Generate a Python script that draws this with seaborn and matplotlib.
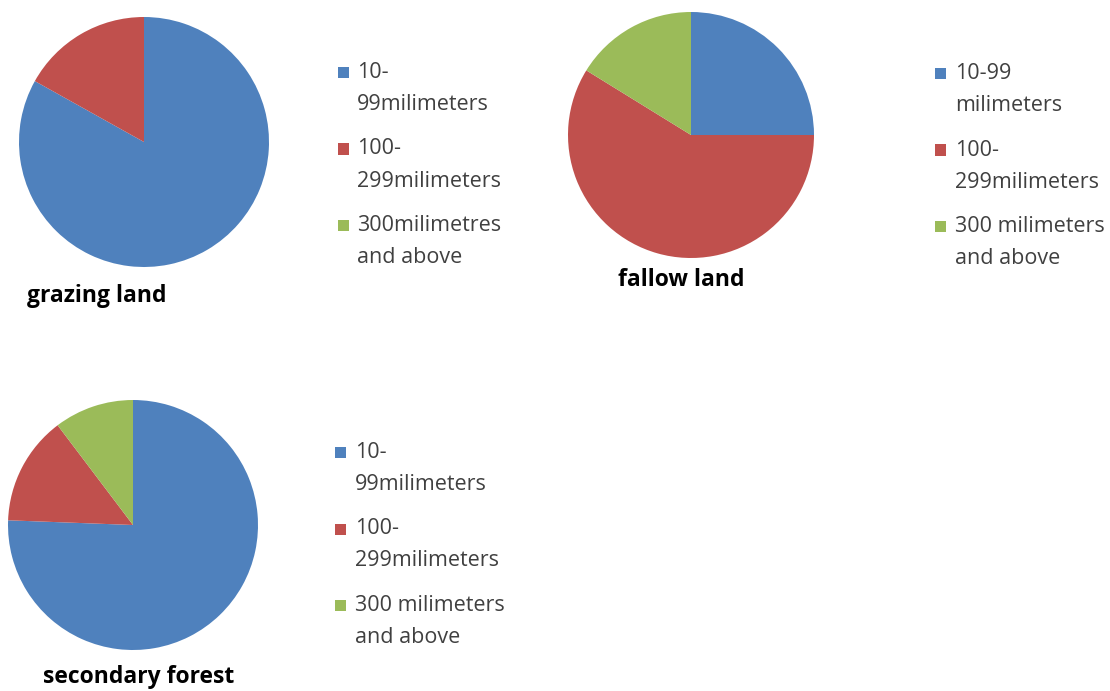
import matplotlib
matplotlib.use("Agg")
import matplotlib.pyplot as plt
import seaborn as sns
from matplotlib.patches import Rectangle

sns.set_theme(style="white")
plt.rcParams['font.family'] = ['Open Sans', 'DejaVu Sans']

# ---- data ----
titles = ["grazing land", "fallow land", "secondary forest"]
grazing_values = [83.1, 16.9, 0.0]
fallow_values = [25.0, 58.8, 16.2]
forest_values = [75.6, 14.1, 10.3]
grazing_labels = ["10-\n99milimeters", "100-\n299milimeters", "300milimetres\nand above"]
fallow_labels = ["10-99\nmilimeters", "100-\n299milimeters", "300 milimeters\nand above"]
forest_labels = ["10-\n99milimeters", "100-\n299milimeters", "300 milimeters\nand above"]
colors = ["#4F81BD", "#C0504D", "#9BBB59"]

W, H = 1110, 691
fig = plt.figure(figsize=(W / 100, H / 100), dpi=100)
fig.patch.set_facecolor("white")

def fx(x):
    return x / W

def fy(y):
    return 1 - y / H

# layout in pixel space: (pie centre x, centre y, radius), title (x, y), legend (square x, text x, first baseline)
layouts = [
    dict(c=(144, 142), r=125, title=(97, 296), leg=(338, 357, 78)),
    dict(c=(691, 135), r=123, title=(681, 280), leg=(935, 955, 79)),
    dict(c=(133, 525), r=125, title=(139, 677), leg=(335, 355, 458)),
]
values = [grazing_values, fallow_values, forest_values]
labels = [grazing_labels, fallow_labels, forest_labels]

for title, vals, labs, lay in zip(titles, values, labels, layouts):
    cx, cy = lay["c"]
    r = lay["r"]
    ax = fig.add_axes([fx(cx - r), fy(cy + r), 2 * r / W, 2 * r / H])
    ax.pie(vals, colors=colors, startangle=90, counterclock=False, radius=1,
           wedgeprops=dict(linewidth=0))
    ax.set_xlim(-1, 1)
    ax.set_ylim(-1, 1)
    ax.set_aspect("equal")
    ax.axis("off")

    tx, ty = lay["title"]
    fig.text(fx(tx), fy(ty), title, ha="center", va="center",
             fontsize=16.5, fontweight="bold", color="black")

    sqx, txx, base = lay["leg"]
    for i, (lab, col) in enumerate(zip(labs, colors)):
        b = base + i * 76.5
        fig.patches.append(Rectangle((fx(sqx), fy(b)), 11 / W, 11 / H,
                                     transform=fig.transFigure, facecolor=col,
                                     edgecolor="none"))
        for j, line in enumerate(lab.split("\n")):
            fig.text(fx(txx), fy(b + j * 32), line, ha="left", va="baseline",
                     fontsize=15.5, color="#404040")

fig.savefig("out.png", dpi=100, facecolor="white")
